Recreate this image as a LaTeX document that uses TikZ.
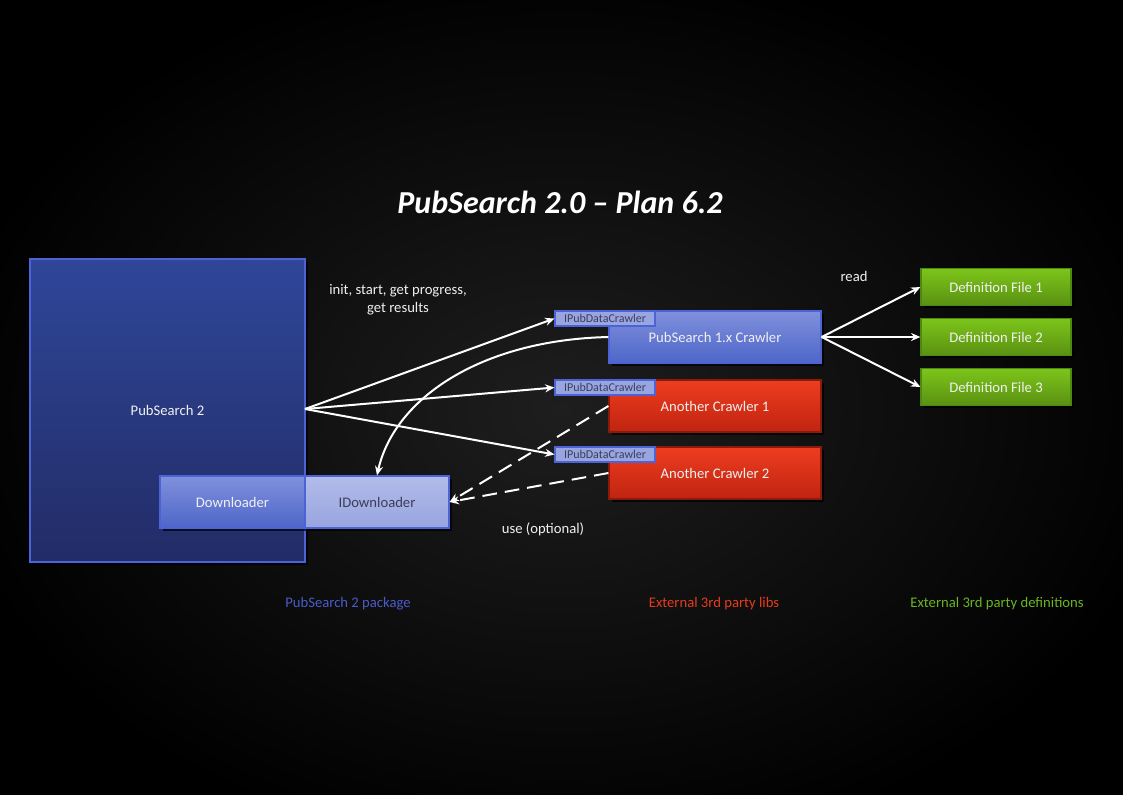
\documentclass[tikz,border=0pt]{standalone}
\usepackage{fontspec}
\setmainfont{Carlito}
\usetikzlibrary{arrows.meta,shadows}
\def\PX{*0.75pt}
\definecolor{bgin}{RGB}{30,30,30}
\definecolor{dkbtop}{RGB}{47,70,153}
\definecolor{dkbbot}{RGB}{34,44,102}
\definecolor{bborder}{RGB}{75,99,214}
\definecolor{mbtop}{RGB}{128,144,220}
\definecolor{mbbot}{RGB}{78,102,201}
\definecolor{lbtop}{RGB}{178,188,234}
\definecolor{lbbot}{RGB}{152,164,222}
\definecolor{lbfill}{RGB}{152,165,224}
\definecolor{rtop}{RGB}{238,61,32}
\definecolor{rbot}{RGB}{192,36,16}
\definecolor{rborder}{RGB}{138,26,10}
\definecolor{gtop}{RGB}{124,197,26}
\definecolor{gbot}{RGB}{90,144,18}
\definecolor{gborder}{RGB}{74,138,16}
\definecolor{txtw}{RGB}{240,240,240}
\definecolor{txtd}{RGB}{60,62,90}
\definecolor{lblblue}{RGB}{74,92,200}
\definecolor{lblred}{RGB}{229,60,30}
\definecolor{lblgreen}{RGB}{108,181,30}
\tikzset{
  box/.style={draw, line width=0.9pt, inner sep=0pt, font=\fontsize{11}{13.2}\selectfont,
    drop shadow={shadow xshift=2pt, shadow yshift=-2pt, opacity=0.7, fill=black}},
  darkblue/.style={box, draw=bborder, top color=dkbtop, bottom color=dkbbot, text=txtw},
  midblue/.style={box, draw=bborder, top color=mbtop, bottom color=mbbot, text=txtw},
  lightblue/.style={box, draw=bborder, top color=lbtop, bottom color=lbbot, text=txtd},
  redbox/.style={box, draw=rborder, top color=rtop, bottom color=rbot, text=txtw},
  greenbox/.style={box, draw=gborder, top color=gtop, bottom color=gbot, text=txtw},
  iface/.style={draw=bborder, line width=0.8pt, fill=lbfill, text=txtd, inner sep=0pt,
    minimum width=100\PX, minimum height=15\PX, font=\fontsize{9}{10}\selectfont},
  arr/.style={draw=white, line width=1.5pt, -{Stealth[length=7pt,width=6pt]}},
  dasharr/.style={arr, dash pattern=on 11pt off 6pt},
  lbl/.style={text=txtw, font=\fontsize{11}{13.2}\selectfont, align=center},
  pkg/.style={font=\fontsize{11}{13.2}\selectfont}
}
\begin{document}
\begin{tikzpicture}[x=0.75pt,y=-0.75pt]
  \useasboundingbox (0,0) rectangle (1123,794);
  % background
  \begin{scope}
    \clip (0,0) rectangle (1123,794);
    \fill[black] (0,0) rectangle (1123,794);
    \shade[inner color=bgin, outer color=black] (-60,-40) rectangle (1183,860);
  \end{scope}

  % title
  \node[text=white, font=\fontsize{24}{28}\bfseries\itshape] (title) at (560,202) {PubSearch 2.0 – Plan 6.2};

  % main boxes
  \node[darkblue, minimum width=275\PX, minimum height=303\PX] (ps2) at (167.5,410.5) {PubSearch 2};
  \node[midblue, minimum width=145\PX, minimum height=52\PX] (dl) at (232.5,502) {Downloader};
  \node[lightblue, minimum width=144\PX, minimum height=52\PX] (idl) at (377,502) {IDownloader};

  \node[midblue, minimum width=212\PX, minimum height=52\PX] (c1) at (715,337) {PubSearch 1.x Crawler};
  \node[redbox, minimum width=212\PX, minimum height=52\PX] (ac1) at (715,406) {Another Crawler 1};
  \node[redbox, minimum width=212\PX, minimum height=52\PX] (ac2) at (715,473) {Another Crawler 2};

  \node[iface] (i1) at (605,318.5) {IPubDataCrawler};
  \node[iface] (i2) at (605,387.5) {IPubDataCrawler};
  \node[iface] (i3) at (605,454.5) {IPubDataCrawler};

  \node[greenbox, minimum width=150\PX, minimum height=37\PX] (d1) at (996,287) {Definition File 1};
  \node[greenbox, minimum width=150\PX, minimum height=37\PX] (d2) at (996,337) {Definition File 2};
  \node[greenbox, minimum width=150\PX, minimum height=37\PX] (d3) at (996,387) {Definition File 3};

  % connectors
  \coordinate (ps2e) at (305,409);
  \draw[arr] (ps2e) -- (i1.west);
  \draw[arr] (ps2e) -- (i2.west);
  \draw[arr] (ps2e) -- (i3.west);

  \draw[arr] (c1.west) .. controls +(-129,3) and +(17,-76) .. (idl.north);

  \draw[dasharr] (ac1.west) -- (idl.east);
  \draw[dasharr] (ac2.west) -- (idl.east);

  \draw[arr] (c1.east) -- (d1.west);
  \draw[arr] (c1.east) -- (d2.west);
  \draw[arr] (c1.east) -- (d3.west);

  % labels
  \node[lbl] (lcalls) at (398,300) {init, start, get progress,\\get results};
  \node[lbl] (lread) at (854,276) {read};
  \node[lbl] (luse) at (543,529) {use (optional)};

  \node[pkg, text=lblblue] (p1) at (348,604) {PubSearch 2 package};
  \node[pkg, text=lblred] (p2) at (714,604) {External 3rd party libs};
  \node[pkg, text=lblgreen] (p3) at (997,604) {External 3rd party definitions};
\end{tikzpicture}
\end{document}
